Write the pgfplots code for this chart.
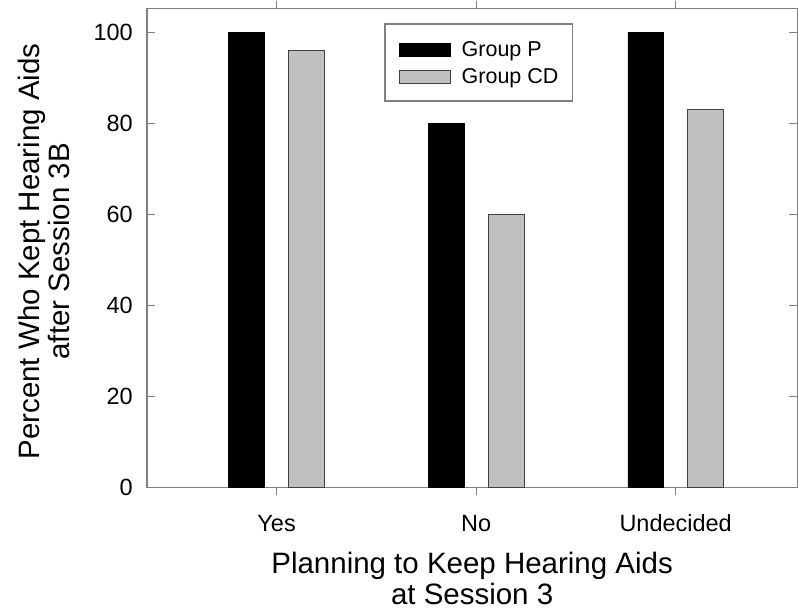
\documentclass[border=0pt]{standalone}
\usepackage{pgfplots}
\pgfplotsset{compat=1.18}
\usepackage{fontspec}
\setmainfont{Liberation Sans}
\definecolor{barg}{HTML}{C0C0C0}
\definecolor{framec}{HTML}{7F7F7F}
\begin{document}
\begin{tikzpicture}
\begin{axis}[
  scale only axis,
  width=651pt, height=479pt,
  xmin=0.35, xmax=3.61,
  ymin=0, ymax=105.3,
  xtick={1,2,3},
  xticklabels={Yes,No,Undecided},
  ytick={0,20,40,60,80,100},
  tick align=inside,
  major tick length=8pt,
  axis line style={draw=framec, line width=1.3pt},
  major tick style={draw=framec, line width=1.2pt},
  tick label style={font=\fontsize{23.5}{26}\selectfont, inner sep=0pt},
  xticklabel style={text height=17pt, yshift=-19pt},
  yticklabel style={xshift=-14pt},
  label style={font=\fontsize{29.5}{30.5}\selectfont, align=center, inner sep=0pt},
  xlabel={Planning to Keep Hearing Aids\\at Session 3},
  ylabel={Percent Who Kept Hearing Aids\\after Session 3B},
  xlabel style={at={(rel axis cs:0.5,-0.1357)}, anchor=north},
  ylabel style={at={(rel axis cs:-0.1989,0.4927)}, anchor=north},
  /pgf/number format/assume math mode=true,
  ybar, bar width=0.18,
  legend style={at={(0.365,0.969)}, anchor=north west, draw=framec, line width=1.2pt,
    font=\fontsize{21.5}{24}\selectfont, inner xsep=14pt, inner ysep=13pt,
    row sep=3pt, column sep=11pt,
    nodes={inner sep=0pt, text height=19.35pt, text depth=4.65pt}},
  legend cell align=left,
  legend image code/.code={\draw[#1, line width=0.9pt] (0pt,-7.3pt) rectangle (51pt,5.7pt);},
]
\addplot[fill=black, draw=black, bar shift=-0.15] coordinates {(1,100) (2,80) (3,100)};
\addplot[fill=barg, draw=black!75, line width=0.9pt, bar shift=0.15] coordinates {(1,96) (2,60) (3,83)};
\legend{Group P, Group CD}
\end{axis}
\path (current axis.south west) ++(-147pt,-123pt) coordinate (bl);
\path (current axis.north east) ++(0pt,8pt) coordinate (tr);
\useasboundingbox (bl) rectangle (tr);
\end{tikzpicture}
\end{document}
